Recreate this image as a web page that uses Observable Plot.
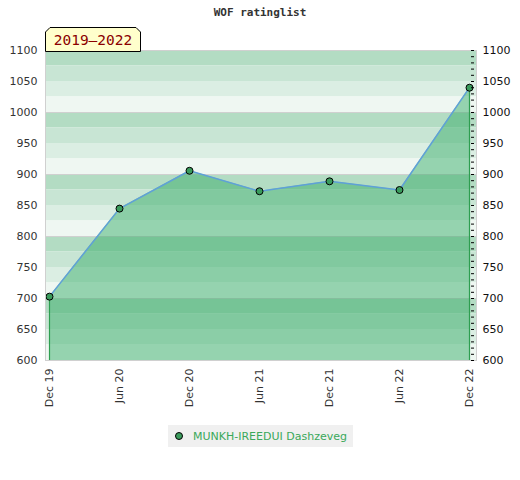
<!DOCTYPE html>
<html><head><meta charset="utf-8">
<script src="https://cdn.jsdelivr.net/npm/d3@7"></script>
<script src="https://cdn.jsdelivr.net/npm/@observablehq/plot@0.6"></script>
<style>
body{margin:0;background:#fff;font-family:"DejaVu Sans",sans-serif;}
#wrap{position:relative;width:520px;height:480px;}
#title{position:absolute;left:0;width:520px;top:6px;text-align:center;font:bold 11px "DejaVu Sans Mono",monospace;color:#333;}
#badge{position:absolute;left:45px;top:27px;}
#legend{position:absolute;left:168px;top:425px;width:185px;height:22px;background:#f0f0f0;display:flex;align-items:center;font:11px "DejaVu Sans",sans-serif;color:#3aa85a;white-space:nowrap;}
#legend svg{margin-left:6px;margin-right:9px;flex-shrink:0;}
</style></head>
<body><div id="wrap"><div id="chart"></div><div id="title">WOF ratinglist</div>
<svg id="badge" width="97" height="25"><polygon points="0.5,24.5 0.5,5 5,0.5 91,0.5 95.5,5 95.5,24.5" fill="#ffffcc" stroke="#000"/><text x="48" y="18" text-anchor="middle" font-family="DejaVu Sans Mono, monospace" font-size="14.5" fill="#8b0000">2019‒2022</text></svg>
<div id="legend"><svg width="10" height="10"><circle cx="5" cy="5" r="3.5" fill="#3a9b5c" stroke="#000" stroke-width="1"/></svg><span>MUNKH-IREEDUI Dashzeveg</span></div>
</div>
<script>
const periods = ["Dec 19","Jun 20","Dec 20","Jun 21","Dec 21","Jun 22","Dec 22"];
const ratings = [703, 845, 906, 873, 889, 875, 1040];
const yLabelTicks = [600,650,700,750,800,850,900,950,1000,1050,1100];
const bandShades = ["#b3dcc3","#c8e5d4","#dbeee3","#eff7f2"];

const data = periods.map((p,i)=>({period:p, rating:ratings[i]}));
const bands = [];
for (let b=600; b<1100; b+=100) {
  for (let k=0;k<4;k++) bands.push({y1:b+100-25*(k+1), y2:b+100-25*k, shade:bandShades[k]});
}
const minorTicks = d3.range(600,1101,10);
const gridLines = [600,700,800,900,1000,1100];
const lastPeriod = periods[periods.length-1];

const chart = Plot.plot({
  width:520, height:415,
  marginTop:50, marginBottom:55, marginLeft:45, marginRight:44,
  style:{fontFamily:"DejaVu Sans, sans-serif", fontSize:"11px", color:"#333", background:"#fff"},
  x:{type:"point", domain:periods, padding:0, insetLeft:2, insetRight:5, label:null},
  y:{domain:[600,1100], label:null},
  marks:[
    Plot.rectY(bands,{y1:"y1",y2:"y2",fill:"shade"}),
    Plot.ruleY(gridLines,{stroke:"#d0d0d0",strokeWidth:1}),
    Plot.areaY(data,{x:"period",y1:600,y2:"rating",fill:"#30aa64",fillOpacity:0.47}),
    Plot.ruleX([data[0],data[data.length-1]],{x:"period",y1:600,y2:"rating",stroke:"#2e9e50",strokeWidth:1.2}),
    Plot.lineY(data,{x:"period",y:"rating",stroke:"#5fa0d8",strokeWidth:1.5}),
    Plot.dot(data,{x:"period",y:"rating",r:3.5,fill:"#3a9b5c",stroke:"#000",strokeWidth:1}),
    Plot.frame({stroke:"#d0d0d0"}),
    Plot.ruleY(minorTicks,{y:d=>d,x1:()=>lastPeriod,x2:()=>lastPeriod,insetLeft:0,insetRight:-3,dx:2,stroke:"#000",strokeWidth:1}),
    Plot.axisY({anchor:"left",ticks:yLabelTicks,tickSize:0,tickPadding:8,tickFormat:d3.format("d"),fill:"#333",label:null}),
    Plot.axisY({anchor:"right",ticks:yLabelTicks,tickSize:0,tickPadding:6,tickFormat:d3.format("d"),fill:"#111",label:null}),
    Plot.axisX({ticks:periods,tickSize:0,tickRotate:-90,tickPadding:8,fill:"#333",label:null})
  ]
});
document.getElementById("chart").appendChild(chart);
</script></body></html>
